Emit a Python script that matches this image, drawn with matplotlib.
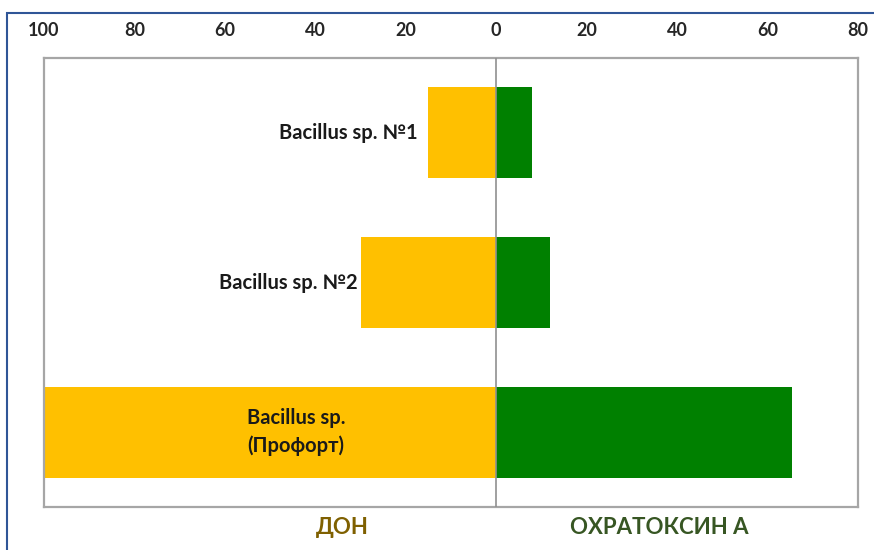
import matplotlib.pyplot as plt
from matplotlib.patches import Rectangle

# data
strains = ['Bacillus sp. №1', 'Bacillus sp. №2', 'Bacillus sp.\n(Профорт)']
don = [15, 30, 100]
ochratoxin = [8, 12, 65.5]
ticks = [-100, -80, -60, -40, -20, 0, 20, 40, 60, 80]
tick_labels = ['100', '80', '60', '40', '20', '0', '20', '40', '60', '80']

plt.rcParams['font.family'] = ['Lato', 'DejaVu Sans']

fig = plt.figure(figsize=(8.74, 5.5), dpi=100)
ax = fig.add_axes([0.0503, 0.0782, 0.9314, 0.8163])

y = list(range(len(strains)))
ax.barh(y, [-v for v in don], height=0.61, color='#FFC000', zorder=2)
ax.barh(y, ochratoxin, height=0.61, color='#008000', zorder=2)
ax.axvline(0, color='#909090', lw=1.2, zorder=3)

ax.set_xlim(-100, 80)
ax.set_ylim(2.5, -0.5)
ax.set_yticks([])
ax.set_xticks(ticks)
ax.set_xticklabels(tick_labels, fontsize=13, fontweight='bold', color='#262626')
ax.xaxis.tick_top()
ax.tick_params(axis='x', length=0, pad=14)
for s in ax.spines.values():
    s.set_color('#a6a6a6')
    s.set_linewidth(1.6)

# strain labels
for i, (name, d) in enumerate(zip(strains, don)):
    if d < 100:
        ax.annotate(name, xy=(-d, i), xytext=(-8 if i == 0 else -2, 0),
                    textcoords='offset points', ha='right', va='center',
                    fontsize=14.5, fontweight='bold', color='#1a1a1a', zorder=4)
    else:
        ax.text(-44.3, i, name, ha='center', va='center', fontsize=14.5,
                fontweight='bold', color='#1a1a1a', linespacing=1.45, zorder=4)

fig.text(342 / 874, 1 - 527 / 550, 'ДОН', ha='center', va='center',
         fontsize=16, fontweight='bold', color='#7f6000')
fig.text(659 / 874, 1 - 527 / 550, 'ОХРАТОКСИН А', ha='center', va='center',
         fontsize=16, fontweight='bold', color='#375623')

# blue frame around the picture
fig.patches.append(Rectangle((7 / 874, -0.05), 1.2, 1 - 13 / 550 + 0.05,
                             transform=fig.transFigure, fill=False,
                             edgecolor='#2f5597', lw=1.5))

fig.savefig('out.png', dpi=100)
